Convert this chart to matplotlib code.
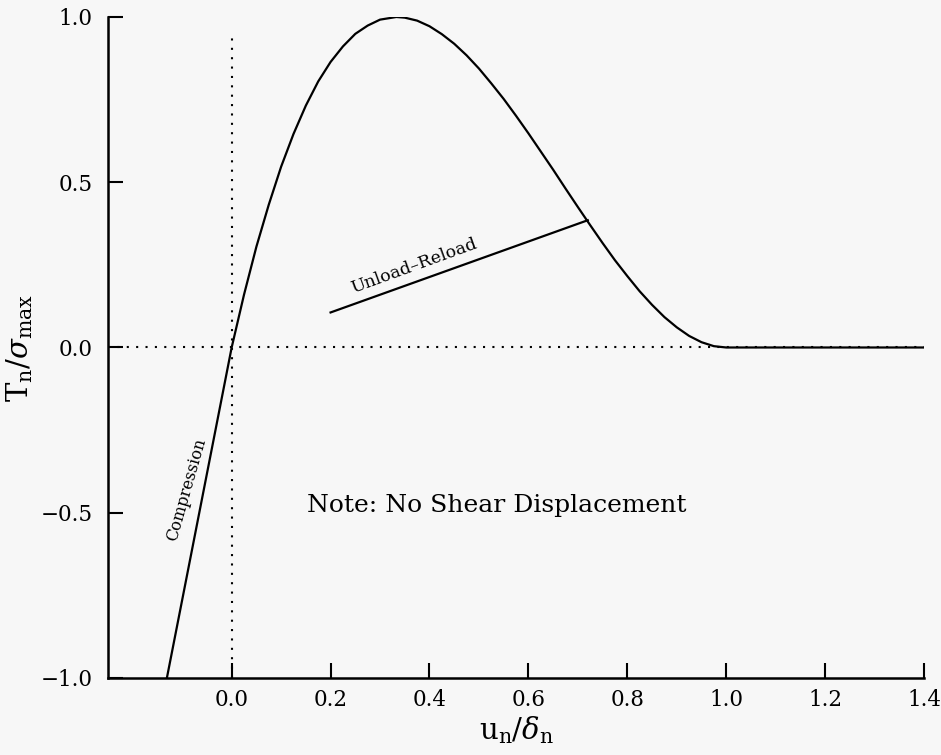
import numpy as np
import matplotlib
matplotlib.use("Agg")
import matplotlib.pyplot as plt

# ---------------------------
# Datos
# ---------------------------

# curva traccion-separacion (u_n/delta_n, T_n/sigma_max)
curve_x = [-0.131, 0.0, 0.025, 0.05, 0.075, 0.10, 0.125, 0.15, 0.175, 0.20, 0.225, 0.25,
           0.275, 0.30, 0.333, 0.35, 0.375, 0.40, 0.425, 0.45, 0.475, 0.50, 0.525, 0.55,
           0.575, 0.60, 0.625, 0.65, 0.675, 0.70, 0.725, 0.75, 0.775, 0.80, 0.825, 0.85,
           0.875, 0.90, 0.925, 0.95, 0.975, 1.00, 1.40]
curve_y = [-1.0, 0.0, 0.160, 0.305, 0.432, 0.547, 0.646, 0.732, 0.805, 0.864, 0.911, 0.949,
           0.974, 0.992, 1.0, 0.998, 0.989, 0.972, 0.948, 0.919, 0.884, 0.844, 0.799, 0.752,
           0.701, 0.648, 0.593, 0.538, 0.481, 0.425, 0.370, 0.316, 0.264, 0.216, 0.170, 0.129,
           0.092, 0.061, 0.035, 0.016, 0.004, 0.0, 0.0]

# linea de descarga-recarga
unload_x = [0.20, 0.72]
unload_y = [0.106, 0.385]

# lineas de referencia punteadas
vline_y = [-1.0, 0.95]
hline_x = [-0.25, 1.40]

xticks = [0.0, 0.2, 0.4, 0.6, 0.8, 1.0, 1.2, 1.4]
yticks = [-1.0, -0.5, 0.0, 0.5, 1.0]

BG = "#f7f7f7"

plt.rcParams["font.family"] = ["DejaVu Serif"]
plt.rcParams["mathtext.fontset"] = "dejavuserif"

fig = plt.figure(figsize=(9.41, 7.55), dpi=100, facecolor=BG)
ax = fig.add_axes([0.1148, 0.102, 0.982 - 0.1148, 0.9775 - 0.102])
ax.set_facecolor(BG)

# referencias
ax.plot([0, 0], vline_y, color="black", lw=1.5, linestyle=(0, (1, 3.5)))
ax.plot(hline_x, [0, 0], color="black", lw=1.5, linestyle=(0, (1, 3.5)))

# curvas
ax.plot(curve_x, curve_y, color="black", lw=1.6)
ax.plot(unload_x, unload_y, color="black", lw=1.6)

# textos
ax.text(0.368, 0.245, "Unload\u2013Reload", rotation=20, ha="center", va="center",
        fontsize=12.5, rotation_mode="anchor")
ax.text(-0.091, -0.43, "Compression", rotation=74, ha="center", va="center",
        fontsize=11.5, rotation_mode="anchor")
ax.text(0.535, -0.478, "Note: No Shear Displacement", ha="center", va="center",
        fontsize=18)

ax.set_xlim(-0.25, 1.40)
ax.set_ylim(-1.0, 1.0)
ax.set_xticks(xticks)
ax.set_yticks(yticks)
ax.set_xticklabels([f"{v:.1f}" for v in xticks])
ax.set_yticklabels([f"{v:.1f}".replace("-", "\u2212") for v in yticks])
ax.tick_params(direction="in", length=11, width=1.5, labelsize=15.5, pad=8)
ax.tick_params(axis="y", pad=11)

for side in ("top", "right"):
    ax.spines[side].set_visible(False)
for side in ("left", "bottom"):
    ax.spines[side].set_linewidth(1.8)

ax.set_xlabel(r"$\mathrm{u_n}/\delta_{\mathrm{n}}$", fontsize=21, labelpad=2)
ax.set_ylabel(r"$\mathrm{T_n}/\sigma_{\mathrm{max}}$", fontsize=21, labelpad=4)

fig.savefig("out.png", dpi=100, facecolor=BG)
